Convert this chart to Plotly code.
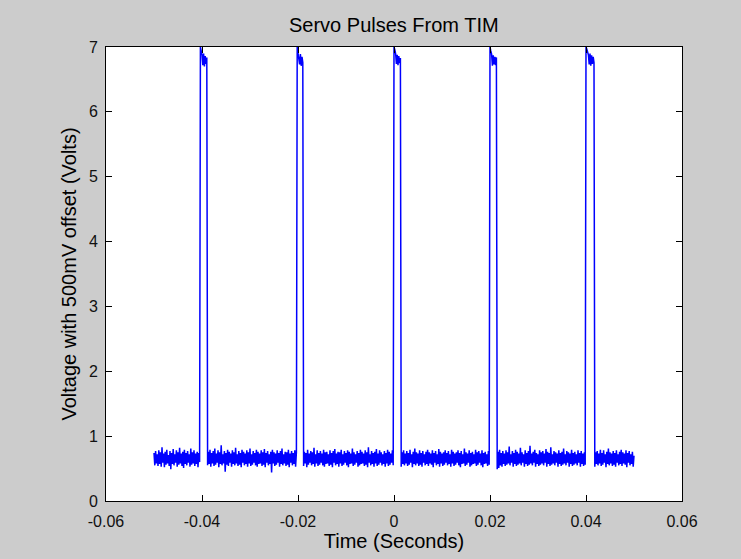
import numpy as np
import plotly.graph_objects as go

seg0 = [74, 55, 77, 58, 72, 54, 78, 57, 75, 53, 83, 59, 73, 52, 76, 56, 79, 58, 71, 54,
        77, 49, 74, 57, 80, 55, 72, 59, 78, 53, 75, 56, 82, 58, 73, 54, 76, 51, 79, 57,
        74, 55, 77, 59, 72, 53, 81, 56, 75, 58, 78, 54, 73, 57, 76, 52, 74, 60]
pulse1 = [700, 695, 688, 672, 690, 670, 686, 674, 684]
seg1 = [55, 76, 57, 79, 53, 74, 58, 77, 54, 81, 56, 73, 59, 78, 52, 75, 57, 86, 55, 72,
        58, 77, 45, 74, 56, 79, 54, 76, 59, 73, 53, 78, 57, 75, 55, 82, 58, 72, 54, 77,
        56, 74, 52, 79, 59, 76, 55, 73, 57, 78, 53, 75, 58, 81, 54, 72, 56, 77, 59, 74,
        55, 79, 53, 76, 57, 73, 58, 78, 54, 75, 56, 80, 52, 74, 59, 77, 55, 72, 57, 76,
        44, 79, 58, 75, 54, 73, 56, 78, 59, 74, 53, 77, 57, 81, 55, 72, 58, 76, 54, 75,
        56, 79, 52, 73, 59, 77, 55, 74, 57, 78, 53, 75]
pulse2 = [700, 692, 686, 673, 689, 671, 685, 676]
seg2 = [54, 76, 58, 74, 52, 79, 56, 73, 59, 77, 55, 75, 57, 82, 53, 72, 58, 78, 54, 74,
        56, 77, 59, 73, 55, 79, 53, 75, 57, 76, 58, 72, 54, 78, 56, 74, 52, 77, 59, 80,
        55, 73, 57, 76, 53, 75, 58, 79, 54, 72, 56, 77, 59, 74, 55, 78, 52, 76, 57, 73,
        58, 81, 54, 75, 56, 72, 59, 77, 53, 74, 55, 79, 57, 76, 58, 73, 54, 78, 56, 75,
        52, 83, 59, 72, 55, 77, 57, 74, 53, 76, 58, 80, 54, 73, 56, 78, 59, 75, 55, 72,
        57, 77, 53, 74, 58, 79, 54, 76, 56, 73, 59, 78, 55]
pulse3 = [700, 696, 690, 674, 688, 672, 686, 675, 683]
seg3 = [53, 75, 57, 78, 55, 73, 58, 77, 54, 74, 56, 79, 59, 72, 52, 76, 57, 81, 55, 75,
        58, 73, 54, 78, 56, 74, 53, 77, 59, 72, 55, 76, 57, 79, 54, 75, 58, 73, 56, 78,
        52, 74, 59, 77, 55, 72, 57, 80, 53, 76, 58, 73, 54, 75, 56, 78, 59, 74, 55, 77,
        57, 72, 53, 79, 58, 76, 54, 73, 56, 75, 59, 78, 55, 74, 52, 77, 57, 72, 58, 81,
        54, 75, 56, 73, 59, 78, 53, 74, 55, 76, 57, 72, 58, 79, 54, 75, 56, 77, 59, 73,
        55, 78, 52, 74, 57, 76, 58, 72, 54, 77, 56]
pulse4 = [700, 694, 689, 671, 687, 673, 685, 672, 684]
seg4 = [49, 76, 51, 79, 55, 74, 53, 77, 57, 73, 54, 78, 56, 75, 58, 84, 55, 72, 59, 77,
        53, 74, 57, 79, 54, 76, 56, 73, 58, 82, 55, 75, 59, 72, 53, 78, 57, 74, 54, 77,
        56, 85, 58, 73, 55, 76, 59, 79, 53, 74, 57, 72, 54, 78, 56, 75, 58, 77, 55, 73,
        59, 80, 53, 76, 57, 74, 54, 83, 56, 72, 58, 77, 55, 75, 59, 73, 53, 78, 57, 74,
        54, 76, 56, 81, 58, 72, 55, 77, 59, 75, 53, 73, 57, 79, 54, 74, 56, 76, 58, 72,
        55, 78, 59, 74, 53, 77, 57, 73, 54, 75, 56]
pulse5 = [700, 697, 692, 688, 673, 690, 671, 687, 674, 685, 676]
seg5 = [53, 75, 57, 77, 55, 73, 58, 79, 54, 74, 56, 78, 59, 72, 52, 76, 57, 81, 55, 75,
        58, 73, 54, 77, 56, 74, 53, 78, 59, 72, 55, 76, 57, 79, 54, 75, 58, 73, 56, 78,
        52, 74, 59, 77, 55, 72, 57, 76, 53, 70]

t_start = -0.05
t_end = 0.05

x_tick_vals = [-0.06, -0.04, -0.02, 0, 0.02, 0.04, 0.06]
x_tick_labels = ["-0.06", "-0.04", "-0.02", "0", "0.02", "0.04", "0.06"]
y_tick_vals = [0, 1, 2, 3, 4, 5, 6, 7]

volts = np.array(seg0 + pulse1 + seg1 + pulse2 + seg2 + pulse3 + seg3
                 + pulse4 + seg4 + pulse5 + seg5) / 100.0
t = np.linspace(t_start, t_end, len(volts))

FONT = "Liberation Sans, Arial, Helvetica, sans-serif"

fig = go.Figure()
fig.add_trace(go.Scatter(x=t, y=volts, mode="lines",
                         line=dict(color="#0000ff", width=1.5),
                         showlegend=False, hoverinfo="skip"))

axis_common = dict(showline=True, linecolor="black", linewidth=1, mirror="ticks",
                   ticks="inside", ticklen=6, tickcolor="black", tickwidth=1,
                   showgrid=False, zeroline=False,
                   tickfont=dict(family=FONT, size=16, color="#111111"))

fig.update_xaxes(range=[-0.06, 0.06], tickvals=x_tick_vals, ticktext=x_tick_labels,
                 title=dict(text="Time (Seconds)", font=dict(family=FONT, size=20, color="black"),
                            standoff=4),
                 ticklabelstandoff=6, **axis_common)
fig.update_yaxes(range=[0, 7], tickvals=y_tick_vals,
                 title=dict(text="Voltage with 500mV offset (Volts)",
                            font=dict(family=FONT, size=20, color="black"), standoff=6),
                 ticklabelstandoff=4, **axis_common)

fig.update_layout(
    width=741, height=559,
    margin=dict(l=106, r=59, t=47, b=58),
    paper_bgcolor="#cccccc", plot_bgcolor="white",
    title=dict(text="Servo Pulses From TIM", x=0.5315, xanchor="center",
               y=1 - 25 / 559, yanchor="middle",
               font=dict(family=FONT, size=20, color="black")),
)

fig.write_html("out.html", config={"displayModeBar": False},
               post_script="document.body.style.margin='0';"
                           "document.body.style.background='#cccccc';")
